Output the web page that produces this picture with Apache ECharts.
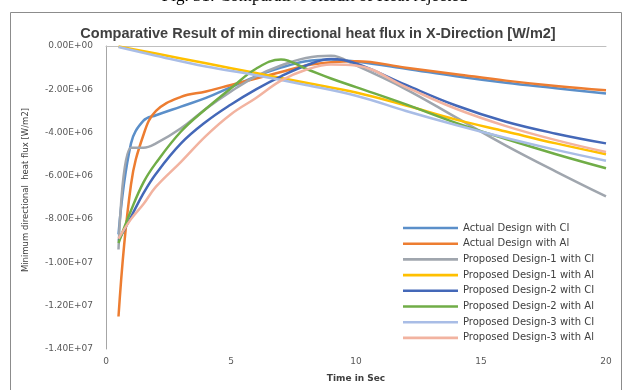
<!DOCTYPE html>
<html>
<head>
<meta charset="utf-8">
<script src="https://cdn.jsdelivr.net/npm/echarts@6/dist/echarts.min.js"></script>
<style>
html,body{margin:0;padding:0;background:#fff;}
#c{width:629px;height:390px;}
</style>
</head>
<body>
<div id="c"></div>
<script>
// ---- data ----
const seriesNames = [
  'Actual Design with CI',
  'Actual Design with Al',
  'Proposed Design-1 with CI',
  'Proposed Design-1 with Al',
  'Proposed Design-2 with CI',
  'Proposed Design-2 with Al',
  'Proposed Design-3 with CI',
  'Proposed Design-3 with Al'
];
const tCurve = [0.5, 1, 1.5, 2, 3, 4, 5, 6, 7, 8, 9, 10, 12, 14, 16, 18, 20];
const tLine = [0.5, 2, 4, 6, 8, 10, 12, 14, 16, 18, 20];

const actualCI  = [-8.7e6, -4.5e6, -3.45e6, -3.2e6, -2.8e6, -2.4e6, -1.9e6, -1.4e6, -1.0e6, -0.7e6, -0.62e6, -0.72e6, -1.05e6, -1.4e6, -1.7e6, -1.95e6, -2.2e6];
const actualAl  = [-12.5e6, -6.4e6, -4.1e6, -3.0e6, -2.35e6, -2.1e6, -1.8e6, -1.5e6, -1.2e6, -0.9e6, -0.75e6, -0.7e6, -1.0e6, -1.3e6, -1.6e6, -1.85e6, -2.05e6];
const prop1CI   = [-9.4e6, -4.7e6, -4.7e6, -4.5e6, -3.8e6, -2.9e6, -2.1e6, -1.4e6, -0.9e6, -0.55e6, -0.45e6, -0.9e6, -2.0e6, -3.3e6, -4.6e6, -5.8e6, -6.95e6];
const prop1Al   = [-0.02e6, -0.35e6, -0.8e6, -1.25e6, -1.7e6, -2.15e6, -2.75e6, -3.4e6, -3.95e6, -4.5e6, -5.0e6];
const prop2CI   = [-9.0e6, -7.9e6, -6.8e6, -5.9e6, -4.5e6, -3.5e6, -2.7e6, -2.0e6, -1.4e6, -0.9e6, -0.6e6, -0.8e6, -1.8e6, -2.75e6, -3.5e6, -4.05e6, -4.5e6];
const prop2Al   = [-9.1e6, -7.6e6, -6.3e6, -5.4e6, -3.95e6, -2.9e6, -1.95e6, -1.05e6, -0.62e6, -1.05e6, -1.5e6, -1.9e6, -2.7e6, -3.55e6, -4.3e6, -5.0e6, -5.65e6];
const prop3CI   = [-0.05e6, -0.45e6, -0.95e6, -1.35e6, -1.8e6, -2.3e6, -3.0e6, -3.65e6, -4.25e6, -4.8e6, -5.3e6];
const prop3Al   = [-8.9e6, -8.0e6, -7.3e6, -6.5e6, -5.35e6, -4.15e6, -3.15e6, -2.4e6, -1.6e6, -1.1e6, -0.85e6, -0.9e6, -1.9e6, -2.9e6, -3.7e6, -4.35e6, -4.9e6];

const seriesValues = [actualCI, actualAl, prop1CI, prop1Al, prop2CI, prop2Al, prop3CI, prop3Al];
const seriesTimes  = [tCurve, tCurve, tCurve, tLine, tCurve, tCurve, tLine, tCurve];
const colors = ['#5B8FC9', '#ED7D31', '#A0A6AE', '#FFC000', '#4468B8', '#70AD47', '#A9BDE6', '#F2B3A0'];

const yTicks = [0, -2e6, -4e6, -6e6, -8e6, -1e7, -1.2e7, -1.4e7];
const xTicks = [0, 5, 10, 15, 20];

function sci(v) {
  if (v === 0) return '0.00E+00';
  const s = v < 0 ? '-' : '';
  const a = Math.abs(v);
  let e = Math.floor(Math.log10(a) + 1e-9);
  let m = a / Math.pow(10, e);
  return s + m.toFixed(2) + 'E+' + (e < 10 ? '0' + e : e);
}

const chart = echarts.init(document.getElementById('c'), null, {renderer: 'canvas'});
const font = 'DejaVu Sans';
const series = seriesNames.map((n, i) => ({
  name: n,
  type: 'line',
  smooth: 0.4,
  symbol: 'none',
  lineStyle: {width: 2.5, color: colors[i]},
  itemStyle: {color: colors[i]},
  data: seriesTimes[i].map((t, j) => [t, seriesValues[i][j]])
}));

chart.setOption({
  animation: false,
  backgroundColor: '#fff',
  grid: {left: 106, right: 23, top: 46, bottom: 41, containLabel: false},
  legend: {
    orient: 'vertical',
    left: 403, top: 223, padding: 0,
    itemWidth: 55, itemHeight: 10, itemGap: 5.7,
    textStyle: {fontFamily: font, fontSize: 10, color: '#404040', lineHeight: 10},
    data: seriesNames.map((n, i) => ({name: n, itemStyle: {color: colors[i]}, icon: 'path://M0,4 L55,4 L55,6.6 L0,6.6 Z'}))
  },
  xAxis: [{
    type: 'value', min: 0, max: 20, interval: 5, position: 'bottom',
    axisLine: {show: false}, axisTick: {show: false}, splitLine: {show: false},
    axisLabel: {fontFamily: font, fontSize: 9, color: '#595959', margin: 8}
  }, {
    type: 'value', min: 0, max: 20, interval: 5, position: 'top',
    axisLine: {show: true, lineStyle: {color: '#BFBFBF', width: 1}},
    axisTick: {show: false}, splitLine: {show: false}, axisLabel: {show: false}
  }],
  yAxis: {
    type: 'value', min: -1.4e7, max: 0, interval: 2e6,
    axisLine: {show: true, lineStyle: {color: '#A6A6A6', width: 1}},
    axisTick: {show: false}, splitLine: {show: false},
    axisLabel: {fontFamily: font, fontSize: 9, color: '#595959', margin: 13, formatter: sci}
  },
  graphic: [
    {type: 'rect', shape: {x: 10.5, y: 12.5, width: 611, height: 390}, style: {fill: 'none', stroke: '#8c8c8c', lineWidth: 1}, silent: true},
    {type: 'text', left: 'center', top: -12, style: {text: 'Fig. 31: Comparative Result of Heat rejected', font: '17px "Liberation Serif"', fill: '#000'}},
    {type: 'text', x: 318, y: 34, style: {text: 'Comparative Result of min directional heat flux in X-Direction [W/m2]', font: 'bold 14.5px "Liberation Sans"', fill: '#404040', textAlign: 'center', textVerticalAlign: 'middle'}},
    {type: 'text', x: 356, y: 379, style: {text: 'Time in Sec', font: 'bold 9px "DejaVu Sans"', fill: '#404040', textAlign: 'center', textVerticalAlign: 'middle'}},
    {type: 'text', x: 26, y: 190, rotation: Math.PI / 2, style: {text: 'Minimum directional  heat flux [W/m2]', font: '8.5px "DejaVu Sans"', fill: '#404040', textAlign: 'center', textVerticalAlign: 'middle'}}
  ],
  series: series
});
</script>
</body>
</html>
